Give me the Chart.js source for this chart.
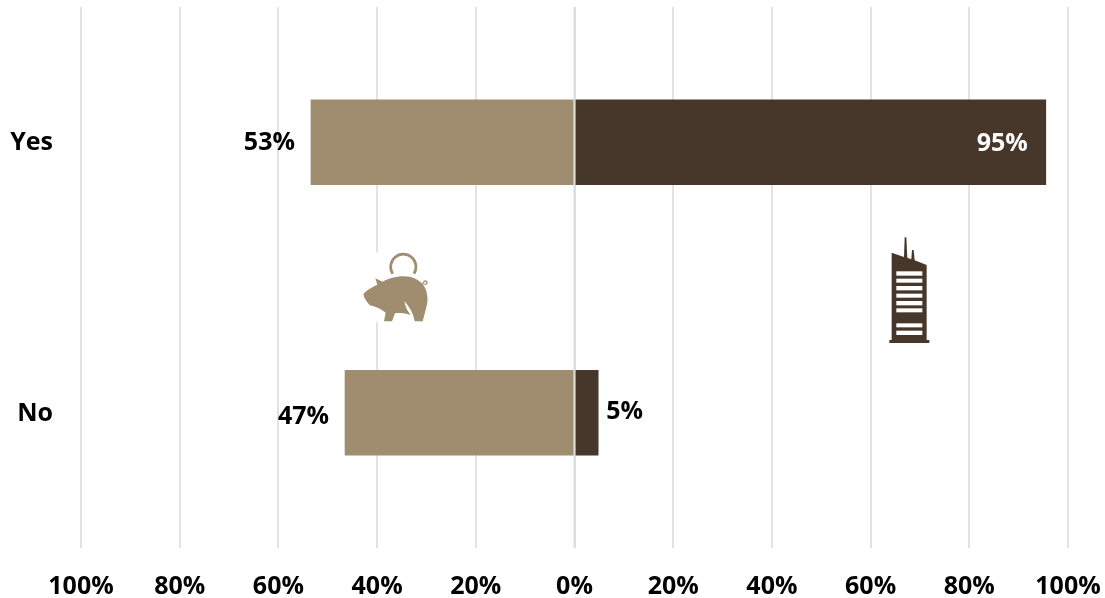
<!DOCTYPE html>
<html><head><meta charset="utf-8">
<style>
html,body{margin:0;padding:0;background:#fff;width:1105px;height:598px;overflow:hidden}
#wrap{position:relative;width:1105px;height:598px}
canvas{position:absolute;left:0;top:0}
svg{position:absolute;display:block}
</style>
<script src="https://cdn.jsdelivr.net/npm/chart.js@4"></script>
</head><body>
<div id="wrap">
<canvas id="c" width="1105" height="598"></canvas>
<svg style="left:340px;top:230px" width="110" height="110" viewBox="0 0 330 330">
  <rect x="72" y="68" width="195" height="208" fill="#fff"/>
  <path d="M158 131 A38 38 0 1 1 222 131" fill="none" stroke="#A08D70" stroke-width="8"/>
  <path d="M248 164 C250 152 258 150 261 156 C262 162 256 164 253 162" fill="none" stroke="#A08D70" stroke-width="4"/>
  <path fill="#A08D70" d="M70 192 C80 180 95 172 112 164 L106 145 L128 155 C150 142 185 134 212 141 C235 147 252 162 258 180 C264 198 264 214 259 232 L248 274 L224 274 C222 258 212 234 193 214 C196 230 202 244 212 254 C192 249 178 248 165 250 L156 274 L132 274 L137 248 C122 236 108 230 90 226 C80 216 72 205 70 192 Z"/>
</svg>
<svg style="left:870px;top:230px" width="80" height="120" viewBox="0 0 240 360">
  <path fill="#47372A" d="M65 68 L102 81 L104 22 L109 22 L112 83 L124 88 L126 60 L131 60 L134 91 L170 105 L170 330 L178 330 L178 339 L58 339 L58 330 L65 330 Z"/>
  <g fill="#fff">
    <rect x="79" y="124" width="78" height="13"/><rect x="79" y="146" width="78" height="12"/>
    <rect x="79" y="168" width="78" height="13"/><rect x="79" y="191" width="78" height="12"/>
    <rect x="79" y="213" width="78" height="13"/><rect x="79" y="235" width="78" height="12"/>
    <rect x="79" y="280" width="78" height="12"/><rect x="79" y="302" width="78" height="13"/>
  </g>
</svg>
</div>
<script>
const categories = ["Yes", "No"];
const savingsValues = [-53.4, -46.5];
const corporateValues = [95.5, 4.8];
const savingsLabels = ["53%", "47%"];
const corporateLabels = ["95%", "5%"];
const tickValues = [-100, -80, -60, -40, -20, 0, 20, 40, 60, 80, 100];

const FONT = '"Open Sans", Lato, sans-serif';
const overlay = {
  id: 'overlay',
  afterDatasetsDraw(chart) {
    const {ctx, scales:{x, y}, chartArea} = chart;
    ctx.save();
    ctx.strokeStyle = '#dcdcdc';
    ctx.lineWidth = 2;
    const x0 = x.getPixelForValue(0);
    ctx.beginPath();
    ctx.moveTo(x0, chartArea.top);
    ctx.lineTo(x0, chartArea.bottom);
    ctx.stroke();
    ctx.font = 'bold 25px ' + FONT;
    ctx.textBaseline = 'middle';
    categories.forEach((c, i) => {
      const cy = y.getPixelForValue(i);
      ctx.fillStyle = '#000';
      ctx.textAlign = 'right';
      ctx.fillText(savingsLabels[i], x.getPixelForValue(savingsValues[i]) - 16, cy + (i ? 4 : 1));
      if (corporateValues[i] > 50) {
        ctx.fillStyle = '#fff';
        ctx.fillText(corporateLabels[i], x.getPixelForValue(corporateValues[i]) - 18, cy + 2);
      } else {
        ctx.fillStyle = '#000';
        ctx.textAlign = 'left';
        ctx.fillText(corporateLabels[i], x.getPixelForValue(corporateValues[i]) + 8, cy - 1);
      }
    });
    ctx.restore();
  }
};

new Chart(document.getElementById('c'), {
  type: 'bar',
  data: {
    labels: categories,
    datasets: [
      {data: savingsValues, backgroundColor: '#A08D70', barThickness: 85},
      {data: corporateValues, backgroundColor: '#47372A', barThickness: 85}
    ]
  },
  options: {
    indexAxis: 'y',
    responsive: false,
    animation: false,
    layout: {autoPadding: false, padding: {top: 7, right: 37, left: 0, bottom: 0}},
    plugins: {legend: {display: false}, tooltip: {enabled: false}},
    scales: {
      x: {
        stacked: true,
        min: -100, max: 100,
        afterBuildTicks(s) { s.ticks = tickValues.map(v => ({value: v})); },
        afterFit(s) { s.height = 50; s.paddingLeft = 0; s.paddingRight = 0; },
        border: {display: false},
        grid: {color: '#e3e3e3', lineWidth: 2, drawTicks: false},
        ticks: {
          maxRotation: 0, autoSkip: false, padding: 24, color: '#000',
          font: {family: FONT, weight: 'bold', size: 25},
          callback: v => Math.abs(v) + '%'
        }
      },
      y: {
        stacked: true,
        afterFit(s) { s.width = 81; s.paddingTop = 0; s.paddingBottom = 0; },
        border: {display: false},
        grid: {display: false, drawTicks: false},
        ticks: {padding: 28, labelOffset: 1, color: '#000', font: {family: FONT, weight: 'bold', size: 25}}
      }
    }
  },
  plugins: [overlay]
});
</script>
</body></html>
